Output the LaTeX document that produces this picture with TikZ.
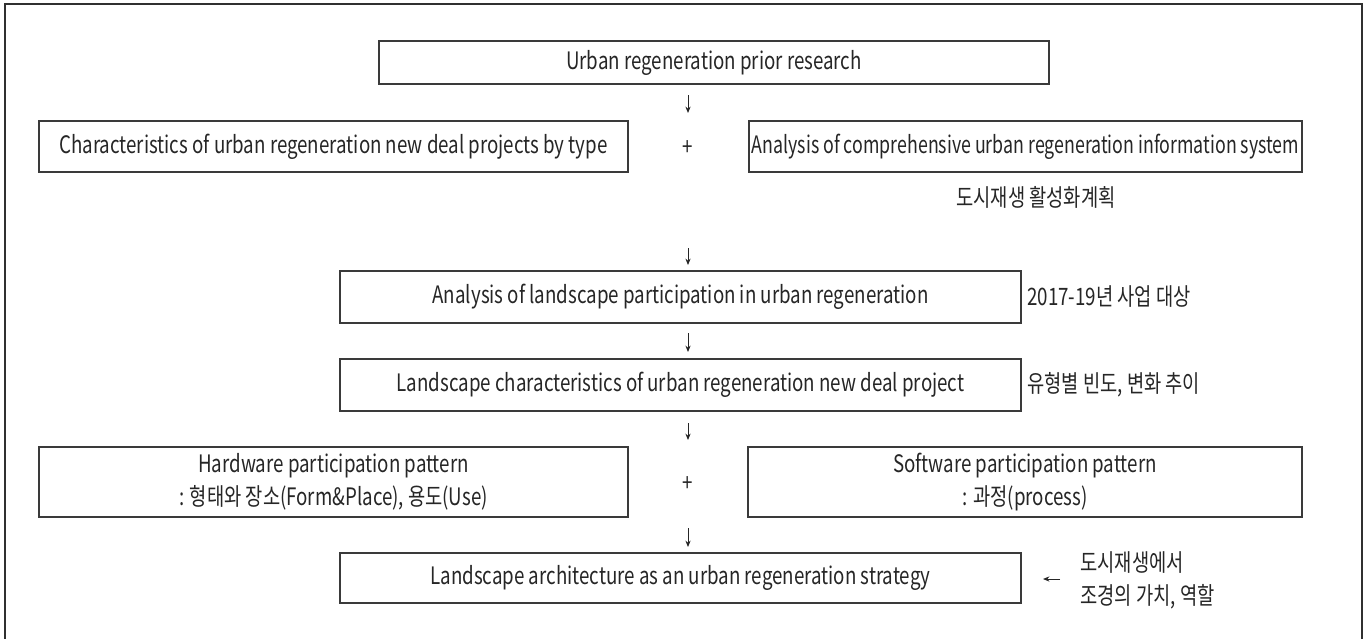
\documentclass[tikz,border=0pt]{standalone}
\usepackage{fontspec}
\usepackage{graphicx}
\setmainfont{Noto Sans CJK KR}[FakeStretch=0.78]
\usetikzlibrary{arrows.meta}
\definecolor{boxc}{HTML}{3A3A3A}
\definecolor{txtc}{HTML}{262626}
\definecolor{framec}{HTML}{303030}
\newcommand\diagfont{\fontsize{12pt}{16.5pt}\selectfont}
\begin{document}
\begin{tikzpicture}[x=0.5pt,y=-0.5pt,
  box/.style={draw=boxc, line width=0.65pt, inner sep=0pt, align=center, text=txtc, font=\diagfont},
  lbl/.style={inner sep=0pt, text=txtc, font=\diagfont, align=left},
  arr/.style={-{Stealth[length=3.2pt,width=2.6pt]}, line width=0.5pt, draw=txtc}]
\useasboundingbox (0,0) rectangle (1369,638);
\fill[white] (0,0) rectangle (1369,638);
% outer frame
\draw[line width=1pt, draw=framec] (5,645) -- (5,4) -- (1362,4) -- (1362,645);
% boxes
\node[box, minimum width=335pt, minimum height=21.5pt] (b1) at (714,62.5) {Urban regeneration prior research};
\node[box, minimum width=294.5pt, minimum height=25.5pt] (b2) at (333.5,146.5) {Characteristics of urban regeneration new deal projects by type};
\node[box, minimum width=276.5pt, minimum height=25.5pt] (b3) at (1025.5,146.5) {\scalebox{0.95}[1]{Analysis of comprehensive urban regeneration information system}};
\node[box, minimum width=340.5pt, minimum height=26pt] (b4) at (680.5,297) {Analysis of landscape participation in urban regeneration};
\node[box, minimum width=340.5pt, minimum height=26pt] (b5) at (680.5,385) {Landscape characteristics of urban regeneration new deal project};
\node[box, minimum width=294.5pt, minimum height=35pt] (b6) at (333.5,482) {Hardware participation pattern\\: 형태와 장소(Form\&Place), 용도(Use)};
\node[box, minimum width=277pt, minimum height=35pt] (b7) at (1025,482) {Software participation pattern\\: 과정(process)};
\node[box, minimum width=340.5pt, minimum height=25pt] (b8) at (680.5,578) {Landscape architecture as an urban regeneration strategy};
% plus signs
\node[lbl] (p1) at (688,148) {+};
\node[lbl] (p2) at (688,484) {+};
% side labels
\node[lbl] (l1) at (1036,197) {도시재생 활성화계획};
\node[lbl, anchor=west] (l2) at (1027,297) {2017-19년 사업 대상};
\node[lbl, anchor=west] (l3) at (1027,385) {유형별 빈도, 변화 추이};
\node[lbl, anchor=west] (l4) at (1080,580.5) {도시재생에서\\조경의 가치, 역할};
% arrows
\coordinate (a1s) at (688,95);  \coordinate (a1e) at (688,113);
\coordinate (a2s) at (688,248); \coordinate (a2e) at (688,265);
\coordinate (a3s) at (688,333); \coordinate (a3e) at (688,352);
\coordinate (a4s) at (688,423); \coordinate (a4e) at (688,440);
\coordinate (a5s) at (688,528); \coordinate (a5e) at (688,547);
\coordinate (a6s) at (1060,579); \coordinate (a6e) at (1043,579);
\draw[arr] (a1s) -- (a1e);
\draw[arr] (a2s) -- (a2e);
\draw[arr] (a3s) -- (a3e);
\draw[arr] (a4s) -- (a4e);
\draw[arr] (a5s) -- (a5e);
\draw[arr] (a6s) -- (a6e);
\end{tikzpicture}
\end{document}
